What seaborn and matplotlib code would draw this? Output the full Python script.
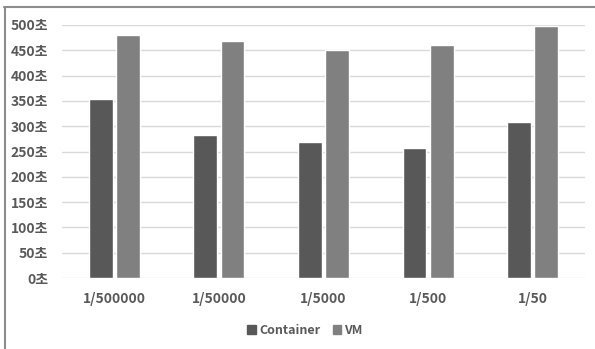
import matplotlib
matplotlib.use("Agg")
import matplotlib.pyplot as plt
from matplotlib.lines import Line2D
import seaborn as sns
import pandas as pd

categories = ["1/500000", "1/50000", "1/5000", "1/500", "1/50"]
container_sec = [354, 283, 269, 257, 308]
vm_sec = [481, 468, 450, 460, 499]
series_names = ["Container", "VM"]
y_ticks = [0, 50, 100, 150, 200, 250, 300, 350, 400, 450, 500]
y_tick_labels = [f"{v}초" for v in y_ticks]

df = pd.DataFrame({
    "ratio": categories * 2,
    "seconds": container_sec + vm_sec,
    "env": [series_names[0]] * len(categories) + [series_names[1]] * len(categories),
})

sns.set_theme(style="white")
plt.rcParams["font.family"] = ["Noto Sans CJK KR", "DejaVu Sans"]
plt.rcParams["font.weight"] = "bold"

W, H = 595, 349
fig = plt.figure(figsize=(W / 100, H / 100), dpi=100)
ax = fig.add_axes([62 / W, 1 - 278 / H, (585 - 62) / W, (278 - 25) / H])

palette = {"Container": "#585858", "VM": "#808080"}
sns.barplot(data=df, x="ratio", y="seconds", hue="env", order=categories,
            hue_order=series_names, palette=palette, width=0.52, gap=0.12,
            saturation=1, legend=False, ax=ax)

ax.set_xlim(-0.5, len(categories) - 0.5)
ax.set_ylim(0, 500)
ax.set_yticks(y_ticks)
ax.set_yticklabels(y_tick_labels)
ax.set_xlabel("")
ax.set_ylabel("")
ax.yaxis.grid(True, color="#d9d9d9", linewidth=1)
ax.set_axisbelow(True)
for s in ax.spines.values():
    s.set_visible(False)
ax.tick_params(axis="both", length=0, labelsize=10, labelcolor="#595959")
ax.tick_params(axis="y", pad=10)
ax.tick_params(axis="x", pad=10)
for lbl in ax.get_xticklabels() + ax.get_yticklabels():
    lbl.set_fontweight("bold")

handles = [plt.Rectangle((0, 0), 1, 1, color=palette[n]) for n in series_names]
leg = fig.legend(handles, series_names, loc="center",
                 bbox_to_anchor=(305 / W, 1 - 330 / H), ncol=2, frameon=False,
                 handlelength=0.7, handleheight=0.7, handletextpad=0.25,
                 columnspacing=1.0, prop={"size": 9, "weight": "bold"})
for t in leg.get_texts():
    t.set_color("#595959")

# outer frame on the left and top edges
frame_kw = dict(color="#8c8c8c", linewidth=1.5, transform=fig.transFigure)
fig.add_artist(Line2D([4.5 / W, 4.5 / W], [0, 1 - 7 / H], **frame_kw))
fig.add_artist(Line2D([4 / W, 1], [1 - 7 / H, 1 - 7 / H], **frame_kw))

fig.savefig("out.png", dpi=100)
